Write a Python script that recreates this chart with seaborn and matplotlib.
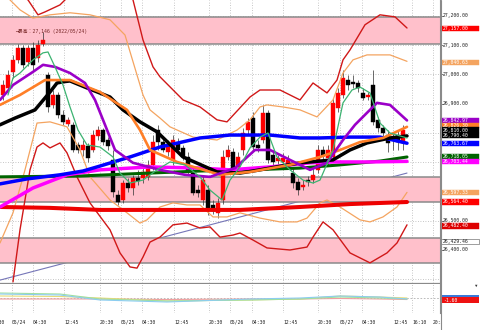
import matplotlib
matplotlib.use("Agg")
import matplotlib.pyplot as plt
import matplotlib.transforms as mtransforms
from matplotlib.patches import Rectangle
from matplotlib.lines import Line2D
import seaborn as sns

sns.set_style("white")
plt.rcParams['font.family'] = ['DejaVu Sans Mono', 'Noto Sans CJK JP']

# ---------------- candle data (1h bars) ----------------
opens = [26930, 26954, 27009, 27050, 27091, 27043, 27091, 27057, 27105, 26999,
         26896, 26930, 26862, 26831, 26828, 26759, 26742, 26756, 26742, 26790,
         26810, 26776, 26708, 26588, 26571, 26629, 26612, 26646, 26646, 26650,
         26691, 26810, 26769, 26735, 26708, 26766, 26749, 26718, 26663, 26605,
         26571, 26605, 26554, 26527, 26571, 26718, 26735, 26684, 26742, 26810,
         26851, 26759, 26776, 26869, 26725, 26704, 26701, 26691, 26663, 26633,
         26615, 26639, 26639, 26674, 26742, 26715, 26718, 26886, 26930, 26981,
         26975, 26971, 26937, 26923, 26964, 26845, 26817, 26793, 26776, 26793,
         26766]
highs = [26981, 27016, 27067, 27105, 27101, 27101, 27111, 27118, 27146, 27009,
         26947, 26940, 26879, 26855, 26838, 26769, 26776, 26766, 26810, 26824,
         26817, 26786, 26742, 26605, 26639, 26646, 26657, 26674, 26691, 26708,
         26793, 26828, 26783, 26776, 26793, 26783, 26759, 26735, 26680, 26622,
         26653, 26622, 26571, 26578, 26742, 26759, 26749, 26735, 26817, 26851,
         26872, 26776, 26896, 26879, 26742, 26725, 26732, 26725, 26680, 26646,
         26639, 26653, 26680, 26759, 26756, 26759, 26920, 26954, 27016, 26999,
         26999, 26981, 26954, 26940, 27016, 26855, 26828, 26810, 26800, 26810,
         26828]
lows = [26913, 26940, 26988, 27040, 27022, 27029, 27016, 27043, 27098, 26872,
        26886, 26851, 26828, 26824, 26735, 26732, 26721, 26701, 26735, 26776,
        26759, 26742, 26581, 26554, 26561, 26598, 26588, 26622, 26629, 26639,
        26674, 26742, 26735, 26721, 26691, 26732, 26708, 26657, 26588, 26581,
        26554, 26520, 26523, 26509, 26557, 26708, 26667, 26674, 26725, 26793,
        26742, 26735, 26766, 26698, 26687, 26694, 26687, 26680, 26612, 26588,
        26605, 26619, 26629, 26663, 26691, 26691, 26708, 26872, 26920, 26947,
        26954, 26940, 26913, 26913, 26828, 26804, 26786, 26735, 26742, 26742,
        26742]
closes = [26964, 26999, 27050, 27091, 27033, 27091, 27033, 27101, 27118, 26889,
          26930, 26862, 26838, 26845, 26742, 26742, 26759, 26715, 26793, 26810,
          26769, 26756, 26598, 26564, 26629, 26612, 26646, 26636, 26667, 26691,
          26769, 26769, 26742, 26759, 26776, 26742, 26718, 26667, 26595, 26595,
          26639, 26544, 26533, 26561, 26718, 26742, 26674, 26718, 26800, 26838,
          26752, 26749, 26869, 26708, 26701, 26715, 26715, 26708, 26629, 26605,
          26622, 26633, 26657, 26742, 26721, 26742, 26903, 26937, 26988, 26964,
          26968, 26954, 26920, 26930, 26838, 26817, 26800, 26766, 26786, 26769,
          26810]

# ---------------- indicator lines (bar index, price) ----------------
blue_x = [-0.6, 4.8, 11.4, 16, 19.4, 25.4, 31.4, 39.4, 45.4, 53.4, 59.4, 63.4, 69.4, 75.4, 80.8]
blue_y = [26626, 26643, 26657, 26670, 26687, 26718, 26752, 26783, 26793, 26793, 26783, 26783, 26786, 26786, 26765]

magenta_x = [-0.6, 6, 12.8, 19.4, 29.4, 39.4, 45.4, 53.4, 61.4, 66, 73.4, 80.8]
magenta_y = [26547, 26612, 26657, 26674, 26684, 26680, 26674, 26684, 26698, 26701, 26701, 26703]

dgreen_x = [-0.6, 15.4, 29.4, 39.4, 49.4, 59.4, 67.4, 75.4, 80.8]
dgreen_y = [26650, 26653, 26663, 26670, 26674, 26680, 26691, 26704, 26718]

redma_x = [-0.6, 9.4, 19.4, 29.4, 39.4, 47.4, 59.4, 69.4, 80.8]
redma_y = [26547, 26544, 26537, 26537, 26537, 26537, 26547, 26557, 26564]

black_x = [-0.6, 2.4, 6.4, 9.4, 10.8, 12, 13.4, 16.8, 21.4, 24, 27.4, 30.8, 36, 42.8, 47.4,
           51.4, 59.4, 66, 69.4, 72.8, 77.4, 80.8]
black_y = [26828, 26851, 26879, 26940, 26971, 26975, 26978, 26954, 26923, 26879, 26838, 26804,
           26718, 26667, 26663, 26674, 26698, 26708, 26742, 26766, 26783, 26790]

orange_x = [-0.6, 3.4, 8.4, 13.4, 19.4, 24.8, 27.4, 29.4, 34.8, 43.4, 49.4, 57.4, 63.4, 67.4,
            71.4, 76, 80.8]
orange_y = [26896, 26930, 26981, 26981, 26940, 26879, 26810, 26742, 26701, 26657, 26667, 26691,
            26718, 26742, 26769, 26783, 26821]

purple_x = [-0.6, 2, 6, 8, 10.4, 13.4, 16.4, 18.4, 20.4, 22.4, 26, 31.4, 36.4, 41.4, 46.4,
            50.4, 53.4, 57.4, 61.4, 64.8, 68, 70.4, 72.8, 74.8, 77.4, 80.8]
purple_y = [26913, 26964, 27009, 27033, 27026, 27005, 26971, 26913, 26828, 26742, 26698, 26674,
            26657, 26650, 26680, 26742, 26742, 26708, 26674, 26698, 26776, 26828, 26869, 26903,
            26896, 26843]

green_x = [1, 2, 3.4, 6, 8, 9, 10.4, 12, 13.4, 15, 16.8, 19.4, 22, 23.4, 25.4, 28, 30.8, 33.4,
           36.4, 39.4, 41.4, 43.8, 45.4, 47.4, 49.4, 51.4, 53, 54.8, 57.4, 60, 62, 63.4, 66, 68,
           69.8, 71.4, 73.4, 75.4, 77.4, 80.8]
green_y = [26930, 26988, 27005, 27050, 27074, 27077, 27026, 26964, 26889, 26810, 26759, 26752,
           26718, 26663, 26629, 26639, 26674, 26701, 26691, 26650, 26605, 26571, 26639, 26684,
           26749, 26786, 26800, 26718, 26674, 26639, 26629, 26639, 26742, 26903, 26947, 26957,
           26937, 26834, 26800, 26783]

bb3_up_x = [-0.6, 3.4, 5, 7, 8.4, 11.4, 13.4, 17.4, 23.4, 26, 28, 30, 31.4, 36, 39.4, 42.8,
            44.8, 49.4, 51.4, 55.4, 59.4, 62, 64.8, 66.8, 68, 69.4, 72.4, 75.4, 78.4, 80.8]
bb3_up_y = [27358, 27272, 27255, 27204, 27214, 27238, 27272, 27358, 27323, 27255, 27118, 27026,
            26992, 26913, 26889, 26845, 26838, 26923, 26947, 26947, 26913, 26971, 26937, 26981,
            27050, 27084, 27170, 27204, 27197, 27159]

bb2_up_x = [-0.6, 1.4, 3.4, 6, 9.4, 13.4, 17.4, 21.4, 24.4, 28, 29.4, 31.4, 33.4, 38, 42.8,
            46.8, 49.4, 51.4, 52.8, 56, 59.4, 62.8, 66, 68, 70, 72.8, 77.4, 80.8]
bb2_up_y = [27289, 27255, 27221, 27193, 27204, 27211, 27204, 27187, 27135, 26930, 26879, 26851,
            26821, 26786, 26776, 26810, 26845, 26889, 26896, 26889, 26879, 26855, 26913, 27005,
            27050, 27067, 27067, 27045]

bb2_lo_x = [-0.6, 2, 4.4, 6.8, 9.4, 12.8, 15.4, 17.4, 21.4, 24.8, 27.4, 28.8, 31.4, 34, 36.8,
            39.4, 42, 44.8, 47.4, 51.4, 55.4, 58.8, 60.8, 63.4, 64.8, 67.4, 71.4, 73.4, 76, 78.8, 80.8]
bb2_lo_y = [26424, 26527, 26674, 26834, 26838, 26821, 26742, 26650, 26571, 26527, 26492, 26503,
            26547, 26561, 26554, 26554, 26513, 26513, 26527, 26509, 26496, 26496, 26509, 26561,
            26571, 26547, 26503, 26496, 26513, 26547, 26597]

bb3_lo_x = [2, 3.4, 5.4, 6.8, 8, 9.4, 11.4, 12.8, 14.8, 17.4, 21.4, 23.4, 25.4, 26.8, 28, 29.4,
            31.4, 34, 36.8, 39.4, 41.4, 43.4, 46, 47.4, 50, 52.8, 57.4, 60.8, 62, 64, 66, 69.4,
            73.4, 76.8, 78.8, 80.8]
bb3_lo_y = [26291, 26469, 26674, 26752, 26766, 26749, 26766, 26732, 26650, 26561, 26469, 26390,
            26342, 26338, 26376, 26427, 26444, 26486, 26492, 26475, 26479, 26444, 26451, 26458,
            26434, 26407, 26400, 26410, 26444, 26496, 26469, 26390, 26356, 26390, 26424, 26486]

trend_x = [-0.6, 80.8]
trend_y = [26297, 26663]

zones = [(27103, 27197), (26564, 26650), (26356, 26440)]
grid_prices = [27200, 27100, 27000, 26900, 26800, 26700, 26600, 26500, 26400, 26300]

time_pos = [-2.4, 1.8, 6.0, 12.2, 19.4, 23.6, 27.8, 34.2, 41.2, 45.4, 49.8, 56.0, 63.0, 67.4,
            71.8, 78.0, 81.8, 86.0]
time_lbl = ["20:30", "05/24", "04:30", "12:45", "20:30", "05/25", "04:30", "12:45", "20:30",
            "05/26", "04:30", "12:45", "20:30", "05/27", "04:30", "12:45", "16:10", "20:30"]

plain_labels = [27200, 27100, 27000, 26900, 26500, 26400]
box_vals = [27157.00, 27040.63, 26842.97, 26826.30, 26810.00, 26790.40, 26763.67, 26718.05,
            26703.44, 26597.33, 26564.40, 26482.40]
box_cols = ["#ff0000", "#f4a460", "#9b00c8", "#ff7f27", "#000000", "#000000", "#0000ff",
            "#006400", "#ff00ff", "#f4a460", "#ff0000", "#dd0000"]
support_val = 26429.46

# sub-window oscillator lines
osc_x = [-0.6, 11.4, 19.4, 32.8, 49.4, 59.4, 67.4, 75.4, 80.8]
osc_blue = [0.5, 0.25, -1.0, -1.5, -0.75, -0.5, 0.0, -0.25, -0.75]
osc_yellow = [0.0, -0.12, -0.5, -1.25, -1.0, -0.75, 0.0, -0.25, -0.5]
osc_green = [0.75, 0.5, -0.75, -1.25, -1.0, -0.75, -0.25, -0.5, -0.75]
osc_pink = [-0.75, -0.75, -0.75, -0.88, -0.75, -0.75, -0.62, -0.75, -0.88]
osc_level = -0.5
osc_label = "-1.60"

# ---------------- figure ----------------
W, H = 480, 330
fig = plt.figure(figsize=(4.8, 3.3), dpi=100)
fig.patch.set_facecolor("white")
ax = fig.add_axes([0, 47 / H, 440 / W, 283 / H])
ax2 = fig.add_axes([0, 17 / H, 440 / W, 29 / H])

ymax = 27254.7
ymin = ymax - 283 * 3.419
ax.set_xlim(-0.6, 87.4)
ax.set_ylim(ymin, ymax)
ax2.set_xlim(-0.6, 87.4)
ax2.set_ylim(-4.25, 3)

grid_kw = dict(color="#b4b4b4", lw=0.6, ls=(0, (1, 2)), zorder=0)
for p in grid_prices:
    ax.axhline(p, **grid_kw)
for t in time_pos:
    ax.axvline(t, **grid_kw)
    ax2.axvline(t, **grid_kw)
ax2.axhline(osc_level, color="#b0b0b0", lw=0.6, ls=(0, (2, 2)), zorder=0)

# trend line below zones
sns.lineplot(x=trend_x, y=trend_y, ax=ax, color="#7676b8", linewidth=0.8, sort=False,
             estimator=None, legend=False, zorder=1)

for lo, hi in zones:
    ax.axhspan(lo, hi, facecolor="#ffc0cb", edgecolor="none", zorder=2)
    ax.axhline(lo, color="#8a8a8a", lw=1.1, zorder=2.5)
    ax.axhline(hi, color="#8a8a8a", lw=1.1, zorder=2.5)

# candles
for i, (o, h, l, c) in enumerate(zip(opens, highs, lows, closes)):
    col = "#ff0000" if c >= o else "#000000"
    ax.vlines(i, l, h, color="#303030", lw=0.5, zorder=3)
    bot = min(o, c)
    hgt = max(abs(c - o), 4)
    ax.bar(i, hgt, bottom=bot, width=0.72, color=col, edgecolor=col, lw=0.3, zorder=3.2)

def ln(xs, ys, color, lw, z, a=ax):
    sns.lineplot(x=xs, y=ys, ax=a, color=color, linewidth=lw, sort=False,
                 estimator=None, legend=False, zorder=z)

ln(bb2_up_x, bb2_up_y, "#f4a460", 0.9, 4)
ln(bb2_lo_x, bb2_lo_y, "#f4a460", 0.9, 4)
ln(bb3_up_x, bb3_up_y, "#d01818", 1.0, 4)
ln(bb3_lo_x, bb3_lo_y, "#d01818", 1.0, 4)
ln(redma_x, redma_y, "#ee0000", 2.9, 5)
ln(dgreen_x, dgreen_y, "#006400", 2.2, 5.1)
ln(magenta_x, magenta_y, "#ff00ff", 2.5, 5.2)
ln(blue_x, blue_y, "#0000ff", 2.5, 5.3)
ln(black_x, black_y, "#000000", 2.5, 5.4)
ln(orange_x, orange_y, "#ff7f27", 1.9, 5.5)
ln(purple_x, purple_y, "#9b00c8", 1.9, 5.6)
ln(green_x, green_y, "#3cb371", 0.9, 5.7)

# high annotation
ax.text(2.4, highs[8], "─最高：27,146 (2022/05/24)", fontsize=3.5, color="#7a2a2a",
        va="center", ha="left", zorder=8)

# sub window
ln(osc_x, osc_pink, "#f0a0a0", 0.8, 3, ax2)
ln(osc_x, osc_yellow, "#e6dc78", 0.8, 3, ax2)
ln(osc_x, osc_green, "#a0e0a0", 0.8, 3, ax2)
ln(osc_x, osc_blue, "#8ccdf0", 0.8, 3, ax2)

for a in (ax, ax2):
    a.set_xticks([])
    a.set_yticks([])
    a.set_xlabel("")
    a.set_ylabel("")
    for s in ("top", "left"):
        a.spines[s].set_visible(False)
    a.spines["right"].set_color("#8a8a8a")
    a.spines["right"].set_linewidth(0.8)
ax.spines["bottom"].set_color("#8a8a8a")
ax.spines["bottom"].set_linewidth(0.9)
ax2.spines["bottom"].set_visible(False)

# right price labels
tr = mtransforms.blended_transform_factory(ax.transAxes, ax.transData)
x0, x1, xt = 441 / 440, 479 / 440, 443 / 440
hh = 2.7 * 3.419
FS = 3.4
for v in plain_labels:
    ax.add_line(Line2D([1.0, 442.5 / 440], [v, v], transform=tr, color="#444444", lw=0.5, clip_on=False))
    ax.text(xt, v, f"{v:,.2f}", transform=tr, fontsize=FS, color="#222222", va="center",
            ha="left", clip_on=False)
for v, c in zip(box_vals, box_cols):
    ax.add_patch(Rectangle((x0, v - hh), x1 - x0, 2 * hh, transform=tr, facecolor=c,
                           edgecolor=c, lw=0.3, clip_on=False, zorder=10))
    ax.text(xt, v, f"{v:,.2f}", transform=tr, fontsize=FS, color="white", va="center",
            ha="left", clip_on=False, zorder=11)
ax.add_patch(Rectangle((x0, support_val - hh), x1 - x0, 2 * hh, transform=tr, facecolor="white",
                       edgecolor="#555555", lw=0.4, clip_on=False, zorder=10))
ax.text(xt, support_val, f"{support_val:,.2f}", transform=tr, fontsize=FS, color="#222222",
        va="center", ha="left", clip_on=False, zorder=11)

tr2 = mtransforms.blended_transform_factory(ax2.transAxes, ax2.transData)
ax2.add_patch(Rectangle((x0, -0.25 - 0.5), x1 - x0, 1.0, transform=tr2, facecolor="#3a78d8",
                        edgecolor="none", clip_on=False, zorder=10))
ax2.add_patch(Rectangle((x0, -1.0 - 0.65), x1 - x0, 1.3, transform=tr2, facecolor="#ee1111",
                        edgecolor="none", clip_on=False, zorder=11))
ax2.text(xt, -1.0, osc_label, transform=tr2, fontsize=FS, color="white", va="center",
         ha="left", clip_on=False, zorder=12)
fig.text(476 / W, 1 - 286 / H, "▼", fontsize=3, color="#333333", ha="center", va="center")

# time labels
trx = mtransforms.blended_transform_factory(ax2.transData, fig.transFigure)
for t, s in zip(time_pos, time_lbl):
    ax2.text(t, 1 - 322 / H, s, transform=trx, fontsize=FS, color="#222222", ha="left",
             va="center", clip_on=False)
fig.add_artist(Rectangle((441 / W, 0), 39 / W, 16 / H, transform=fig.transFigure,
                         facecolor="white", edgecolor="none", zorder=20))
fig.add_artist(Line2D([440.5 / W, 440.5 / W], [0, 1], transform=fig.transFigure,
                      color="#8a8a8a", lw=0.8, zorder=21))

fig.savefig("out.png", dpi=100, facecolor="white")
